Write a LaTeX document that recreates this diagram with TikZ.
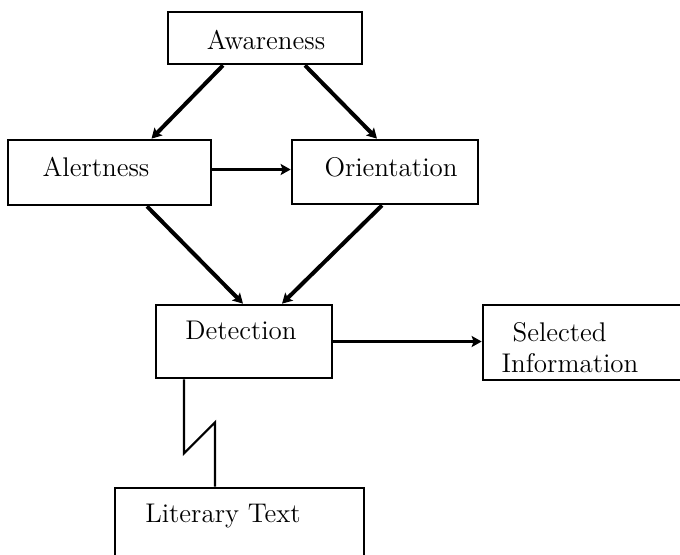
\documentclass[tikz,border=0pt]{standalone}
\usepackage{fontspec}
\usetikzlibrary{arrows.meta}

\begin{document}
\begin{tikzpicture}[x=0.5pt,y=-0.5pt,
              font=\fontsize{13.5}{15.5}\selectfont,
              every node/.style={rectangle,draw,line width=1.35pt,inner sep=0pt},
              every label/.style={draw=none},
              >={Stealth[black,length=5pt,width=5.5pt,inset=1pt]},
              every edge/.style={draw=black,line width=2pt}]
    \useasboundingbox (0,0) rectangle (680,554);
    \clip (0,0) rectangle (680,554);

    \node[minimum width=97pt,minimum height=26pt,
          label={[shift={(1,2)}]center:Awareness}] (awareness) at (265,38) {};
    \node[minimum width=101.5pt,minimum height=32.5pt,
          label={[shift={(-13.5,-5.5)}]center:Alertness}] (alertness) at (109.5,172.5) {};
    \node[minimum width=93pt,minimum height=32pt,
          label={[shift={(6,-5)}]center:Orientation}] (orientation) at (385,172) {};
    \node[minimum width=88pt,minimum height=36.5pt,
          label={[shift={(-3,-11)}]center:Detection}] (detection) at (244,341.5) {};
    \node[minimum width=108.5pt,minimum height=37.5pt,
          label={[shift={(-21.5,5.5)},align=left]center:\hspace{5.5pt}Selected\\Information}] (selected) at (591.5,342.5) {};
    \node[minimum width=124.5pt,minimum height=56pt,
          label={[shift={(-16.5,-28)}]center:Literary Text}] (literary) at (239.5,544) {};

    \path [->] ([xshift=-21pt]awareness.south) edge ([xshift=21pt]alertness.north);
    \path [->] ([xshift=20pt]awareness.south) edge ([xshift=-4pt]orientation.north);
    \path [->] ([yshift=1.5pt]alertness.east) edge [line width=1.7pt] ([yshift=1.5pt]alertness.east -| orientation.west);
    \path [->] ([xshift=18.75pt]alertness.south) edge ([xshift=-0.5pt]detection.north);
    \path [->] ([xshift=-1.5pt]orientation.south) edge ([xshift=19pt]detection.north);
    \path [->] (detection.east) edge [line width=1.5pt] (detection.east -| selected.west);

    % broken link down to the text
    \draw [line width=1.1pt] ([xshift=-30pt]detection.south) -- ++(0,74) -- ++(31,-31)
        -- ([xshift=-12.25pt]literary.north);
\end{tikzpicture}
\end{document}
